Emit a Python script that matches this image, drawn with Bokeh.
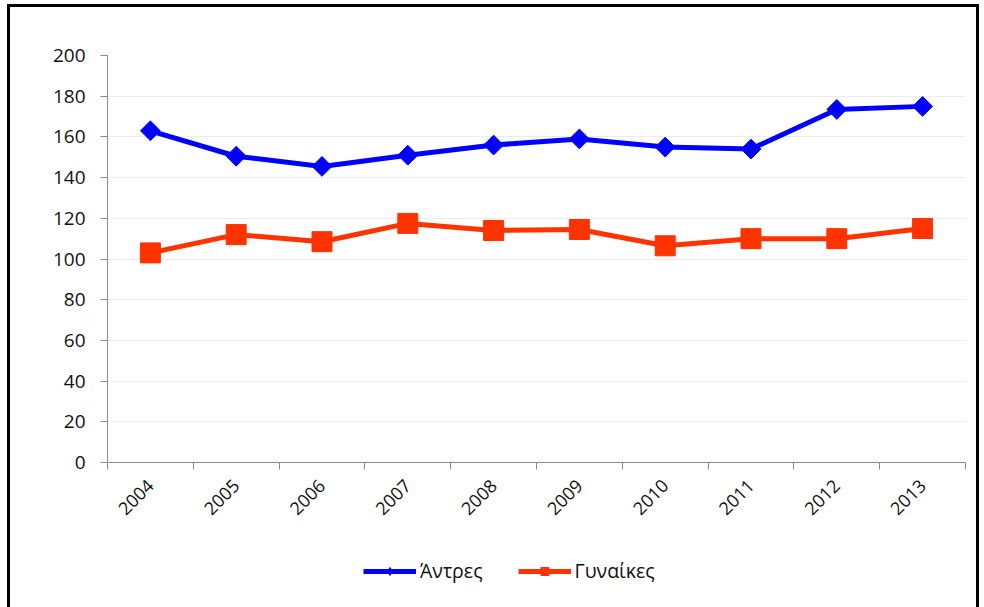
import math
from bokeh.plotting import figure
from bokeh.layouts import column
from bokeh.models import ColumnDataSource, FixedTicker, Legend, LegendItem
from bokeh.embed import file_html
from bokeh.resources import INLINE

years = ["2004", "2005", "2006", "2007", "2008", "2009", "2010", "2011", "2012", "2013"]
men = [163, 150.5, 145.5, 151, 156, 159, 155, 154, 173.5, 175]
women = [103, 112, 108.5, 117.5, 114, 114.5, 106.5, 110, 110, 115]
y_ticks = [0, 20, 40, 60, 80, 100, 120, 140, 160, 180, 200]
men_label = "Άντρες"
women_label = "Γυναίκες"

xpos = [i + 0.5 for i in range(len(years))]
src = ColumnDataSource(dict(x=xpos, men=men, women=women))

FONT = "Open Sans"
blue = "#0000ff"
red = "#ff3300"
TXT = "#111111"

p = figure(width=966, height=535, x_range=(0, len(years)), y_range=(0, 200),
           output_backend="svg", toolbar_location=None,
           min_border_left=97, min_border_right=11, min_border_top=48, min_border_bottom=80)
p.outline_line_color = None
p.background_fill_color = "white"
p.border_fill_color = "white"

# Grid
p.xgrid.visible = False
p.ygrid.ticker = FixedTicker(ticks=y_ticks)
p.ygrid.grid_line_color = "#ececec"
p.ygrid.grid_line_width = 1

# Y axis
p.yaxis.ticker = FixedTicker(ticks=y_ticks)
p.yaxis.axis_line_color = "#8c8c8c"
p.yaxis.major_tick_line_color = "#8c8c8c"
p.yaxis.major_tick_in = 0
p.yaxis.major_tick_out = 7
p.yaxis.minor_tick_line_color = None
p.yaxis.major_label_text_font = FONT
p.yaxis.major_label_text_font_size = "19px"
p.yaxis.major_label_text_color = TXT
p.yaxis.major_label_standoff = 15

# X axis: labels at centers, ticks at category boundaries
p.xaxis.ticker = FixedTicker(ticks=xpos, minor_ticks=list(range(len(years) + 1)))
p.xaxis.major_label_overrides = {x: y for x, y in zip(xpos, years)}
p.xaxis.axis_line_color = "#8c8c8c"
p.xaxis.major_tick_line_color = None
p.xaxis.minor_tick_line_color = "#8c8c8c"
p.xaxis.minor_tick_in = 0
p.xaxis.minor_tick_out = 7
p.xaxis.major_label_orientation = math.pi / 4
p.xaxis.major_label_text_font = FONT
p.xaxis.major_label_text_font_size = "18px"
p.xaxis.major_label_text_color = TXT
p.xaxis.major_label_standoff = 13

p.line("x", "men", source=src, line_color=blue, line_width=5)
p.scatter("x", "men", source=src, marker="square", angle=math.pi / 4, size=14,
          fill_color=blue, line_color=blue)
p.line("x", "women", source=src, line_color=red, line_width=5)
p.scatter("x", "women", source=src, marker="square", size=20, fill_color=red, line_color=red)

# Legend strip below the chart (its renderers use the same data, which lies outside this strip's range)
lf = figure(width=966, height=65, x_range=(0, len(years)), y_range=(-2, -1),
            output_backend="svg", toolbar_location=None,
            min_border_left=0, min_border_right=0, min_border_top=0, min_border_bottom=0)
lf.axis.visible = False
lf.grid.visible = False
lf.outline_line_color = None
lf.border_fill_color = "white"
lb1 = lf.line("x", "men", source=src, line_color=blue, line_width=5)
lb1s = lf.scatter("x", "men", source=src, marker="diamond", fill_color=blue, line_color=blue)
lb2 = lf.line("x", "women", source=src, line_color=red, line_width=5)
lb2s = lf.scatter("x", "women", source=src, marker="square", fill_color=red, line_color=red)

legend = Legend(items=[LegendItem(label=men_label, renderers=[lb1, lb1s]),
                       LegendItem(label=women_label, renderers=[lb2, lb2s])],
                orientation="horizontal", location=(256, 23), margin=0, padding=10,
                glyph_width=53, glyph_height=20, label_standoff=4, spacing=35,
                label_text_font=FONT, label_text_font_size="19.5px", label_text_color=TXT,
                border_line_color=None, background_fill_alpha=0)
lf.add_layout(legend, "center")

layout = column(p, lf, spacing=0,
                styles={"border-top": "3px solid black", "border-left": "3px solid black",
                        "border-right": "3px solid black", "margin-left": "7px",
                        "margin-top": "4px"})

open("out.html", "w").write(file_html(layout, INLINE))
